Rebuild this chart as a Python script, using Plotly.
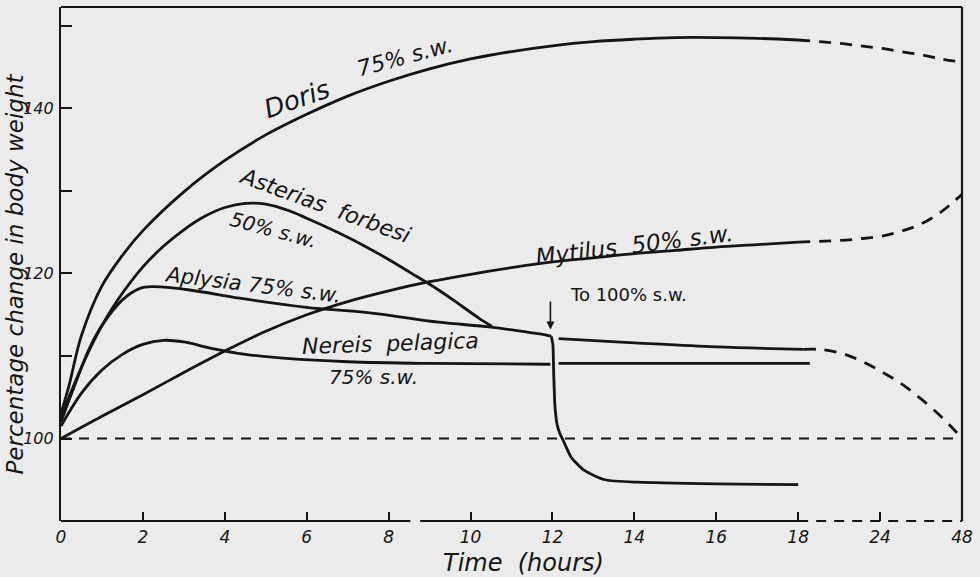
import plotly.graph_objects as go

# ---------------- data (hours, % body weight) ----------------
doris_t = [0, 0.2, 0.5, 1, 1.5, 2, 3, 4, 5, 6, 7, 8, 9, 10, 11, 12, 13, 14, 15, 16, 17, 18]
doris_v = [103, 106.5, 112.5, 118.5, 122.2, 125.2, 129.9, 133.7, 136.8, 139.3, 141.5, 143.3, 144.8, 146.0, 146.9, 147.6, 148.1, 148.4, 148.6, 148.6, 148.5, 148.3]
doris_ext_t = [18, 19.5, 21, 22.5, 24, 30, 36, 42, 48]
doris_ext_v = [148.3, 148.1, 147.9, 147.6, 147.3, 146.9, 146.5, 146.0, 145.6]

asterias_t = [0, 0.3, 0.7, 1, 1.4, 2, 2.5, 3, 3.5, 4, 4.5, 5, 5.57, 6, 6.79, 7.5, 8, 8.5, 9.22, 9.8, 10.2, 10.52]
asterias_v = [102.5, 106.3, 110.8, 113.7, 116.9, 120.8, 123.3, 125.3, 126.9, 128.0, 128.5, 128.4, 127.6, 126.7, 124.9, 123.1, 121.7, 120.2, 118.0, 116.0, 114.6, 113.6]

aplysia_t = [0, 0.3, 0.7, 1, 1.5, 1.93, 2.24, 3.14, 4.36, 5.99, 7.59, 9.22, 10.5, 11.5, 11.8, 11.97]
aplysia_v = [102, 106, 111, 113.7, 116.8, 118.2, 118.4, 118.0, 117.0, 115.9, 115.2, 114.1, 113.5, 112.8, 112.6, 112.4]
drop_t = [11.97, 12.01, 12.03, 12.06, 12.11, 12.18, 12.26, 12.46, 12.79, 13.28, 14.09, 16, 18]
drop_v = [112.4, 111.4, 108, 104, 101.8, 100.6, 99.8, 97.7, 96.1, 95.0, 94.7, 94.5, 94.4]

upper_t = [12.15, 14, 16, 18.4]
upper_v = [112.1, 111.6, 111.1, 110.8]
upper_ext_t = [18.4, 19.5, 21, 22.5, 24, 30, 36, 42, 45.6, 48]
upper_ext_v = [110.8, 110.8, 110.4, 109.5, 108.2, 106.7, 104.8, 102.6, 101.1, 100]

mytilus_t = [0, 1, 2, 3, 4, 5, 6, 7, 8, 9, 10, 11, 12, 13, 14, 15, 16, 17, 18]
mytilus_v = [100, 102.7, 105.3, 108.0, 110.6, 113.0, 115.0, 116.6, 117.9, 119.0, 119.9, 120.7, 121.4, 121.9, 122.4, 122.8, 123.2, 123.5, 123.8]
mytilus_ext_t = [18, 19.5, 21, 22.5, 24, 30, 36, 42, 48]
mytilus_ext_v = [123.8, 123.9, 124.0, 124.2, 124.5, 125.1, 126.0, 127.5, 129.6]

nereis_t = [0, 0.5, 1, 1.5, 2, 2.5, 3, 3.7, 4.5, 5.5, 7, 9, 11.95]
nereis_v = [101.5, 105.5, 108.3, 110.2, 111.4, 111.9, 111.7, 110.9, 110.2, 109.7, 109.3, 109.1, 109.0]
nereis2_t = [12.15, 15, 18.85]
nereis2_v = [109.1, 109.1, 109.1]

tick_hours = [0, 2, 4, 6, 8, 10, 12, 14, 16, 18, 24, 48]
tick_labels = ["0", "2", "4", "6", "8", "10", "12", "14", "16", "18", "24", "48"]
y_ticks = [100, 110, 120, 130, 140, 150]
y_labels = ["100", "", "120", "", "140", ""]


def pos(h):
    """Broken time axis: 0-18 h linear, then 24 h and 48 h compressed."""
    if h <= 18:
        return h
    if h <= 24:
        return 18 + (h - 18) / 3.0
    return 20 + (h - 24) / 12.0


def P(ts):
    return [pos(t) for t in ts]


INK = "#151515"
BG = "#ebebeb"
W = 2.8

fig = go.Figure()


def add(ts, vs, dash="solid", shape="spline", smooth=1.0, width=W):
    line = dict(color=INK, width=width, dash=dash, shape=shape)
    if shape == "spline":
        line["smoothing"] = smooth
    fig.add_trace(go.Scatter(x=P(ts), y=vs, mode="lines", line=line,
                             hoverinfo="skip", showlegend=False))


# baseline 100 %
add([0, 48], [100, 100], dash="10px,8px", shape="linear", width=2.2)

add(doris_t, doris_v)
add(doris_ext_t, doris_ext_v, dash="12px,9px")
add(asterias_t, asterias_v)
add(aplysia_t, aplysia_v)
add(drop_t, drop_v, smooth=0.6)
add(upper_t, upper_v)
add(upper_ext_t, upper_ext_v, dash="12px,9px")
add(mytilus_t, mytilus_v)
add(mytilus_ext_t, mytilus_ext_v, dash="12px,9px")
add(nereis_t, nereis_v)
add(nereis2_t, nereis2_v, shape="linear")

# frame: bottom axis (solid with small gap, dashed after 18 h), top and right borders
shapes = [
    dict(type="line", xref="x", yref="paper", x0=0, x1=8.53, y0=0, y1=0, line=dict(color=INK, width=2.2)),
    dict(type="line", xref="x", yref="paper", x0=8.77, x1=18, y0=0, y1=0, line=dict(color=INK, width=2.2)),
    dict(type="line", xref="x", yref="paper", x0=18, x1=22, y0=0, y1=0, line=dict(color=INK, width=2.2, dash="10px,8px")),
    dict(type="line", xref="paper", yref="paper", x0=0, x1=1, y0=1, y1=1, line=dict(color=INK, width=2.2)),
    dict(type="line", xref="paper", yref="paper", x0=1, x1=1, y0=0, y1=1, line=dict(color=INK, width=2.2)),
]

hand = "DejaVu Sans"
ann = []


def label(text, x, y, angle=0, size=21, italic=True):
    f = dict(family=hand, size=size, color=INK)
    if italic:
        f["style"] = "italic"
    ann.append(dict(text=text, x=x, y=y, xref="x", yref="y", showarrow=False,
                    textangle=angle, font=f))


label("Doris", 5.75, 141.2, angle=-19, size=26)
label("75% s.w.", 8.4, 146.3, angle=-15, size=22)
label("Asterias  forbesi", 6.45, 128.3, angle=20, size=22)
label("50% s.w.", 5.19, 125.3, angle=15, size=20)
label("Aplysia 75% s.w.", 4.7, 118.6, angle=7, size=21)
label("Mytilus  50% s.w.", 14.0, 123.5, angle=-7, size=23)
label("Nereis  pelagica", 8.05, 111.5, angle=-2, size=22)
label("75% s.w.", 7.64, 107.4, angle=0, size=20)
label("To 100% s.w.", 13.85, 117.5, angle=0, size=18, italic=False)
ann.append(dict(x=pos(11.95), y=113.2, ax=pos(11.95), ay=116.8, axref="x", ayref="y",
                xref="x", yref="y", showarrow=True, arrowhead=2, arrowsize=1, arrowwidth=1.6,
                arrowcolor=INK, text=""))

# axis titles as free annotations (paper coordinates)
ann.append(dict(text="Time  (hours)", x=0.513, y=-0.082, xref="paper", yref="paper",
                showarrow=False, yanchor="middle",
                font=dict(family=hand, size=24, color=INK, style="italic")))
ann.append(dict(text="Percentage change in body weight", x=-0.0508, y=0.48, xref="paper", yref="paper",
                showarrow=False, textangle=-90, xanchor="center", yanchor="middle",
                font=dict(family=hand, size=23, color=INK, style="italic")))

fig.update_layout(
    width=980, height=577, paper_bgcolor=BG, plot_bgcolor=BG,
    margin=dict(l=61, r=14, t=7, b=56),
    shapes=shapes, annotations=ann,
    xaxis=dict(range=[0, 22], tickvals=[pos(h) for h in tick_hours], ticktext=tick_labels,
               ticks="inside", ticklen=9, tickwidth=1.8, tickcolor=INK, ticklabelstandoff=4,
               showgrid=False, zeroline=False, showline=False,
               tickfont=dict(family=hand, size=17, color=INK, style="italic")),
    yaxis=dict(range=[90, 152.3], tickvals=y_ticks, ticktext=y_labels,
               ticks="inside", ticklen=11, tickwidth=1.8, tickcolor=INK, ticklabelstandoff=2,
               showgrid=False, zeroline=False, showline=True, linecolor=INK, linewidth=2.2,
               tickfont=dict(family=hand, size=16, color=INK, style="italic")),
)

fig.write_html("out.html")
